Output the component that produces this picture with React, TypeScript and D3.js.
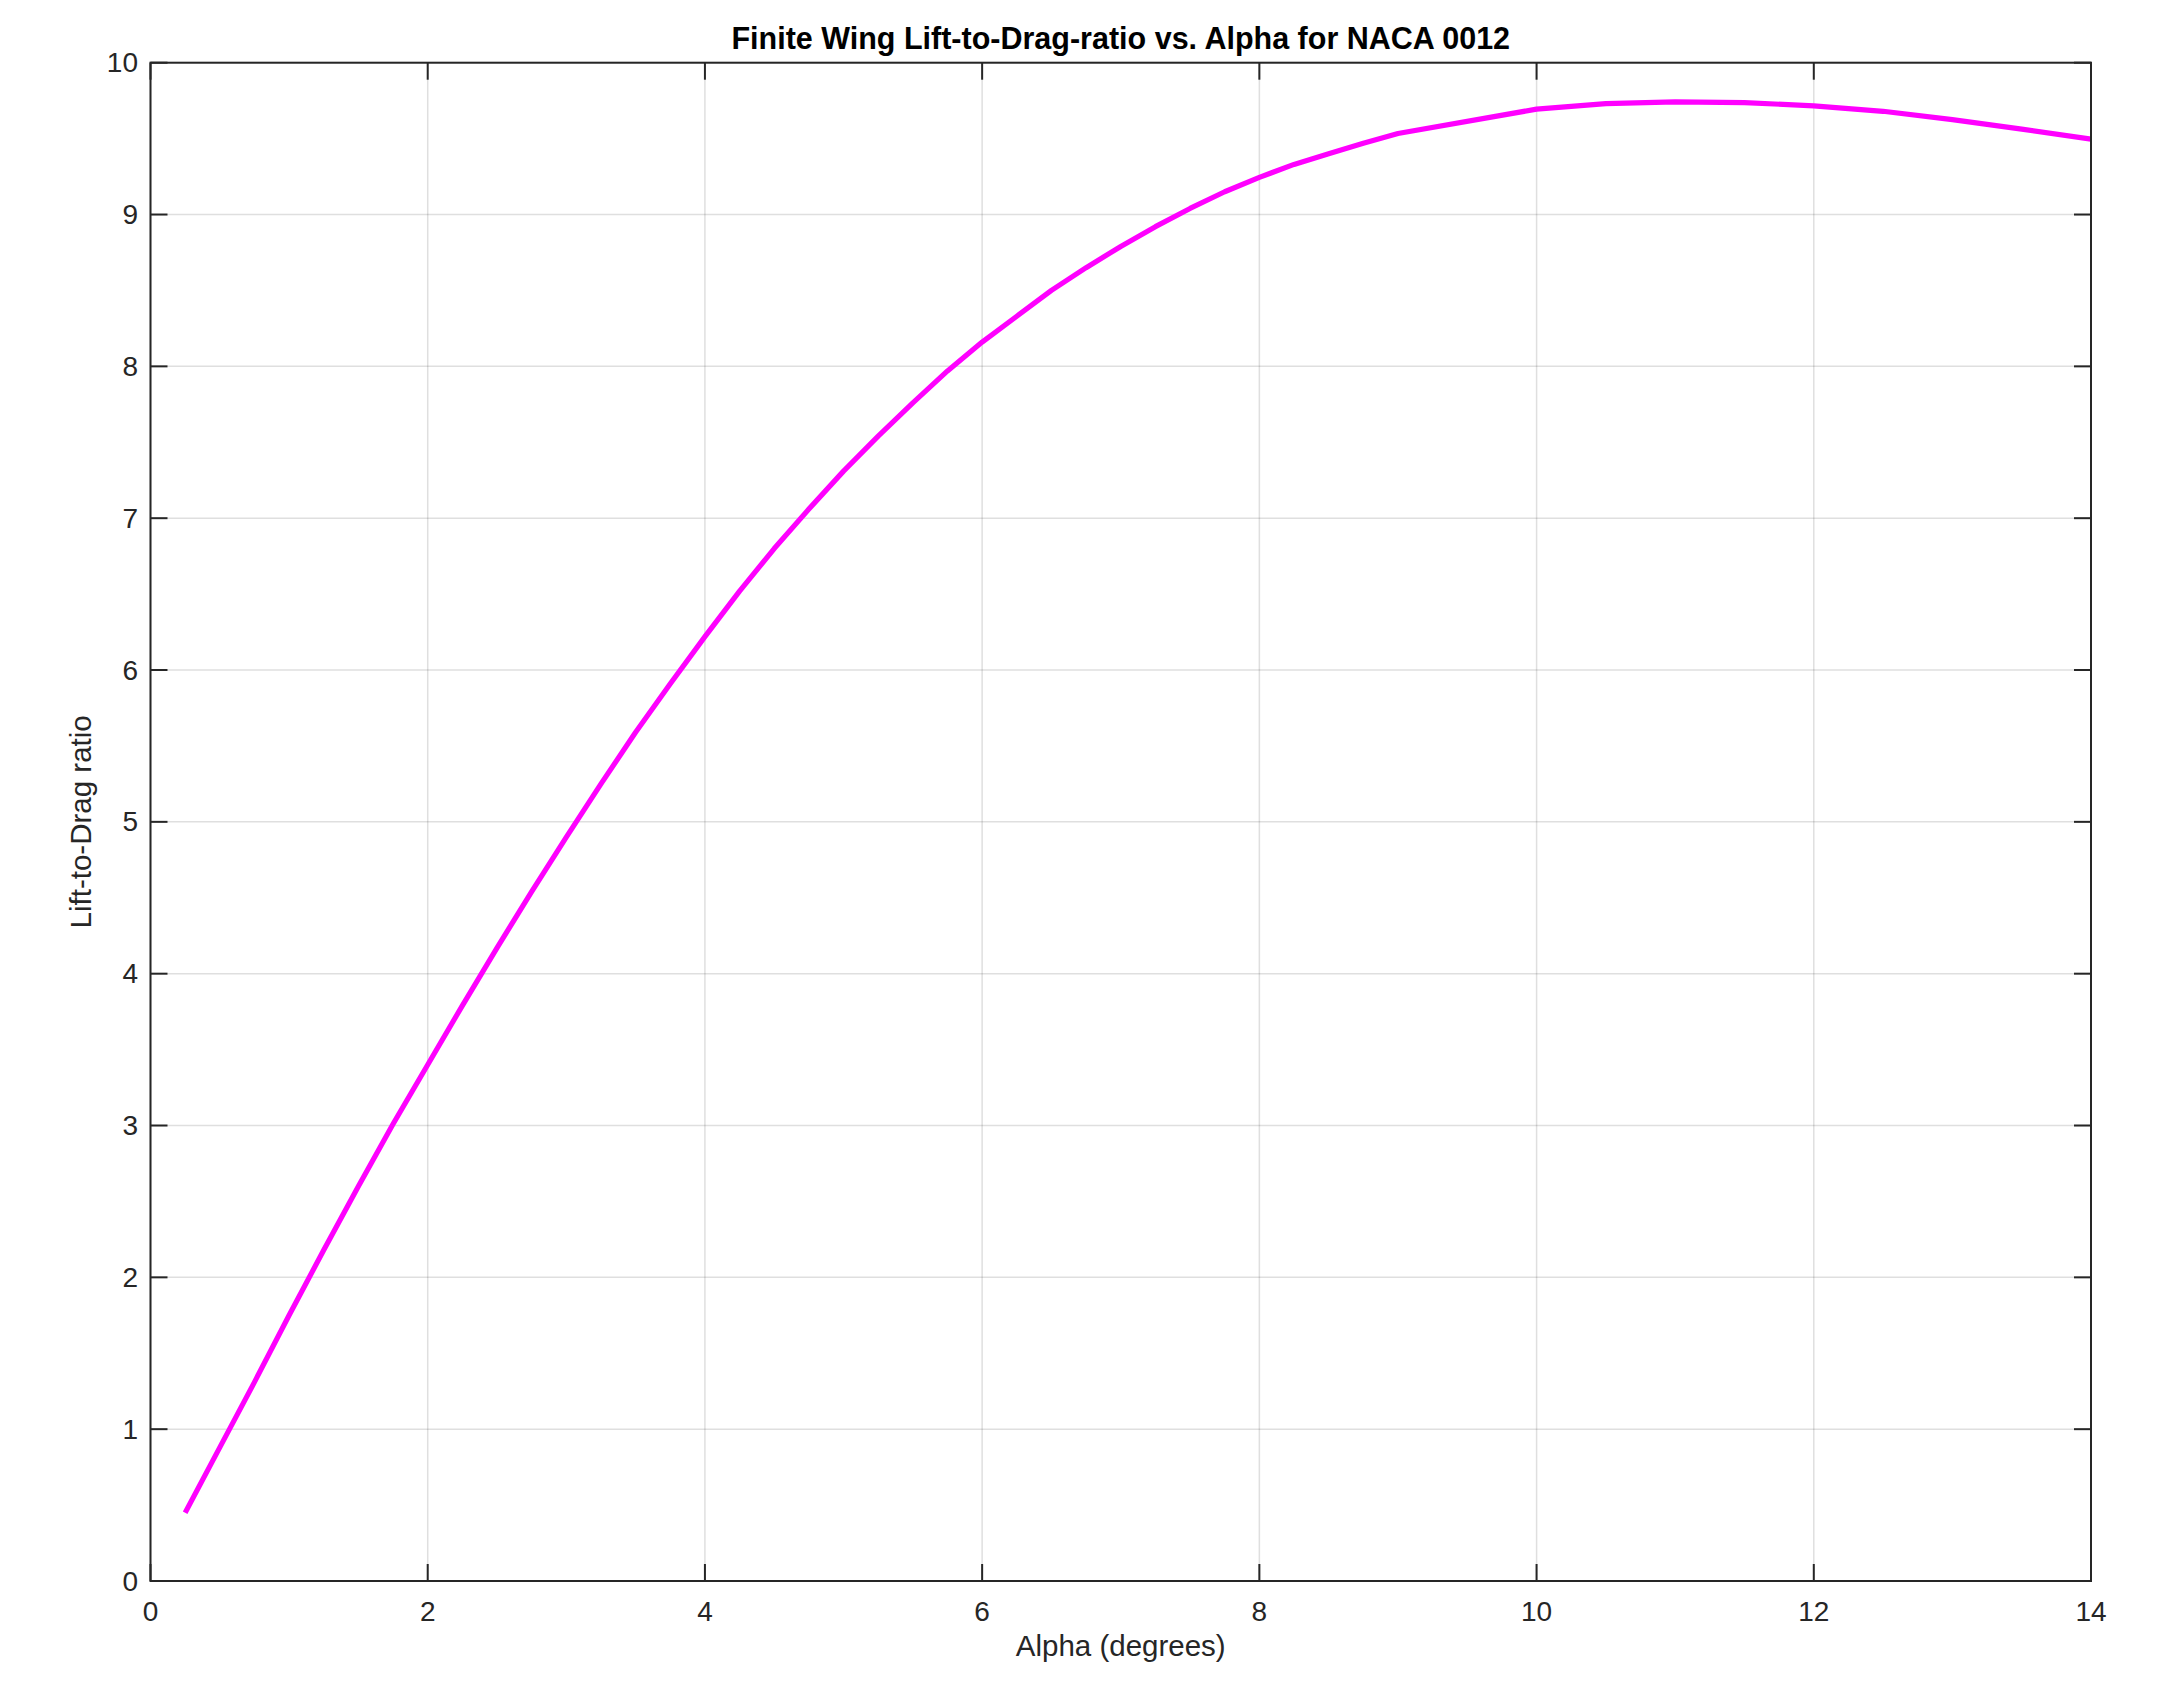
import React from "react";
import * as d3 from "d3";

const alphaDeg = [
  0.25, 0.5, 0.75, 1.0, 1.25, 1.5, 1.75, 2.0, 2.25, 2.5, 2.75, 3.0, 3.25, 3.5, 3.75, 4.0,
  4.25, 4.5, 4.75, 5.0, 5.25, 5.5, 5.75, 6.0, 6.25, 6.5, 6.75, 7.0, 7.25, 7.5, 7.75, 8.0,
  8.25, 8.5, 8.75, 9.0, 10.0, 10.5, 11.0, 11.5, 12.0, 12.5, 13.0, 13.5, 14.0,
];
const liftToDrag = [
  0.45, 0.88, 1.31, 1.75, 2.18, 2.6, 3.01, 3.4, 3.79, 4.17, 4.54, 4.9, 5.25, 5.59, 5.91, 6.22,
  6.52, 6.8, 7.06, 7.31, 7.54, 7.76, 7.97, 8.16, 8.33, 8.5, 8.65, 8.79, 8.92, 9.04, 9.15, 9.245,
  9.33, 9.4, 9.47, 9.534, 9.694, 9.73, 9.742, 9.737, 9.716, 9.68, 9.625, 9.563, 9.497,
];
const xTicks = [0, 2, 4, 6, 8, 10, 12, 14];
const yTicks = [0, 1, 2, 3, 4, 5, 6, 7, 8, 9, 10];
const titleText = "Finite Wing Lift-to-Drag-ratio vs. Alpha for NACA 0012";
const xLabelText = "Alpha (degrees)";
const yLabelText = "Lift-to-Drag ratio";

const W = 2164;
const H = 1689;
const L = 150.5;
const R = 2091;
const T = 62.7;
const B = 1581;
const FONT = "'Liberation Sans', Arial, Helvetica, sans-serif";
const AXIS = "#262626";
const TICK = 17;

export default function App() {
  const x = d3.scaleLinear().domain([0, 14]).range([L, R]);
  const y = d3.scaleLinear().domain([0, 10]).range([B, T]);
  const pts = alphaDeg.map((a, i) => [a, liftToDrag[i]] as [number, number]);
  const line = d3
    .line<[number, number]>()
    .x((d) => x(d[0]))
    .y((d) => y(d[1]))
    .curve(d3.curveLinear);

  return (
    <svg
      width={W}
      height={H}
      style={{ position: "absolute", left: 0, top: 0, background: "#fff" }}
      fontFamily={FONT}
    >
      <rect x={0} y={0} width={W} height={H} fill="#fff" />
      <g stroke="#262626" strokeOpacity={0.15} strokeWidth={1.5}>
        {xTicks.map((t) => (
          <line key={"gx" + t} x1={x(t)} x2={x(t)} y1={T} y2={B} />
        ))}
        {yTicks.map((t) => (
          <line key={"gy" + t} x1={L} x2={R} y1={y(t)} y2={y(t)} />
        ))}
      </g>
      <path d={line(pts) || ""} fill="none" stroke="#ff00ff" strokeWidth={5.2} strokeLinejoin="round" />
      <g stroke={AXIS} strokeWidth={2}>
        {xTicks.map((t) => (
          <g key={"tx" + t}>
            <line x1={x(t)} x2={x(t)} y1={B} y2={B - TICK} />
            <line x1={x(t)} x2={x(t)} y1={T} y2={T + TICK} />
          </g>
        ))}
        {yTicks.map((t) => (
          <g key={"ty" + t}>
            <line x1={L} x2={L + TICK} y1={y(t)} y2={y(t)} />
            <line x1={R} x2={R - TICK} y1={y(t)} y2={y(t)} />
          </g>
        ))}
      </g>
      <rect x={L} y={T} width={R - L} height={B - T} fill="none" stroke={AXIS} strokeWidth={2} />
      <g fill="#262626" fontSize={28}>
        {xTicks.map((t) => (
          <text key={"lx" + t} x={x(t)} y={1621} textAnchor="middle">
            {String(t)}
          </text>
        ))}
        {yTicks.map((t) => (
          <text key={"ly" + t} x={138} y={y(t)} textAnchor="end" dominantBaseline="central">
            {String(t)}
          </text>
        ))}
      </g>
      <text x={(L + R) / 2} y={1656} textAnchor="middle" fontSize={29.5} fill="#262626">
        {xLabelText}
      </text>
      <text
        transform={`translate(91, ${(T + B) / 2}) rotate(-90)`}
        textAnchor="middle"
        fontSize={29.5}
        fill="#262626"
      >
        {yLabelText}
      </text>
      <text x={(L + R) / 2} y={49} textAnchor="middle" fontSize={30.5} fontWeight="bold" fill="#000">
        {titleText}
      </text>
    </svg>
  );
}
